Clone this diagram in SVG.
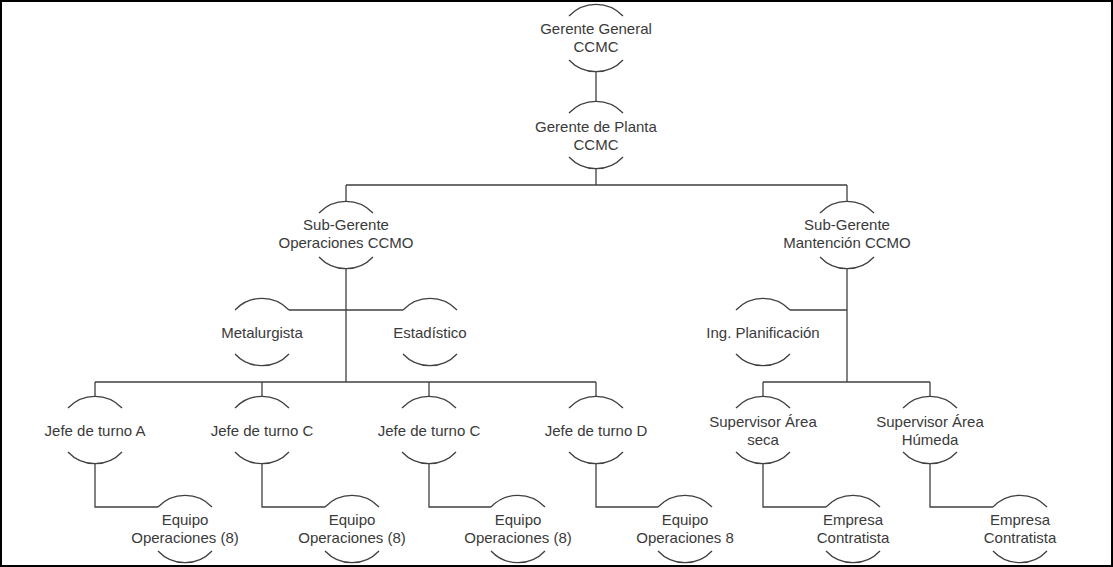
<svg xmlns="http://www.w3.org/2000/svg" xmlns:xlink="http://www.w3.org/1999/xlink" width="1113" height="567" viewBox="0 0 1113 567">
<style>
.ln{fill:none;stroke:#404040;stroke-width:1.3}
.t{font-family:"Liberation Sans",Arial,sans-serif;font-size:15px;fill:#3a3a3a;text-anchor:middle}
</style>
<defs>
<g id="arcs" class="ln">
<path d="M-27,-22 A37,37 0 0 1 27,-22"/>
<path d="M-27,22 A37,37 0 0 0 27,22"/>
</g>
</defs>
<rect x="1" y="1" width="1111" height="565" fill="#fff" stroke="#000" stroke-width="2"/>
<g id="connectors" class="ln">
<path d="M596,72 V101"/>
<path d="M596,169 V185 M346,185 H847 M346,185 V201 M847,185 V201"/>
<path d="M346,269 V382 M289,310 H403"/>
<path d="M95,382 H596 M95,382 V396 M262,382 V396 M429,382 V396 M596,382 V396"/>
<path d="M847,269 V382 M790,310 H847 M763,382 H930 M763,382 V396 M930,382 V396"/>
<path d="M95,464 V507 H158 M262,464 V507 H325 M429,464 V507 H491 M596,464 V507 H658"/>
<path d="M763,464 V507 H826 M930,464 V507 H993"/>
</g>
<g id="gerente-general"><use xlink:href="#arcs" x="596" y="38"/><text class="t" x="596" y="34">Gerente General</text><text class="t" x="596" y="52">CCMC</text></g>
<g id="gerente-planta"><use xlink:href="#arcs" x="596" y="135"/><text class="t" x="596" y="132">Gerente de Planta</text><text class="t" x="596" y="150">CCMC</text></g>
<g id="subgerente-operaciones"><use xlink:href="#arcs" x="346" y="235"/><text class="t" x="346" y="230">Sub-Gerente</text><text class="t" x="346" y="248">Operaciones CCMO</text></g>
<g id="subgerente-mantencion"><use xlink:href="#arcs" x="847" y="235"/><text class="t" x="847" y="230">Sub-Gerente</text><text class="t" x="847" y="248">Mantención CCMO</text></g>
<g id="metalurgista"><use xlink:href="#arcs" x="262" y="332"/><text class="t" x="262" y="338">Metalurgista</text></g>
<g id="estadistico"><use xlink:href="#arcs" x="430" y="332"/><text class="t" x="430" y="338">Estadístico</text></g>
<g id="ing-planificacion"><use xlink:href="#arcs" x="763" y="332"/><text class="t" x="763" y="338">Ing. Planificación</text></g>
<g id="jefe-a"><use xlink:href="#arcs" x="95" y="430"/><text class="t" x="95" y="436">Jefe de turno A</text></g>
<g id="jefe-c1"><use xlink:href="#arcs" x="262" y="430"/><text class="t" x="262" y="436">Jefe de turno C</text></g>
<g id="jefe-c2"><use xlink:href="#arcs" x="429" y="430"/><text class="t" x="429" y="436">Jefe de turno C</text></g>
<g id="jefe-d"><use xlink:href="#arcs" x="596" y="430"/><text class="t" x="596" y="436">Jefe de turno D</text></g>
<g id="supervisor-seca"><use xlink:href="#arcs" x="763" y="430"/><text class="t" x="763" y="427">Supervisor Área</text><text class="t" x="763" y="445">seca</text></g>
<g id="supervisor-humeda"><use xlink:href="#arcs" x="930" y="430"/><text class="t" x="930" y="427">Supervisor Área</text><text class="t" x="930" y="445">Húmeda</text></g>
<g id="equipo-a"><use xlink:href="#arcs" x="185" y="529"/><text class="t" x="185" y="525">Equipo</text><text class="t" x="185" y="543">Operaciones (8)</text></g>
<g id="equipo-c1"><use xlink:href="#arcs" x="352" y="529"/><text class="t" x="352" y="525">Equipo</text><text class="t" x="352" y="543">Operaciones (8)</text></g>
<g id="equipo-c2"><use xlink:href="#arcs" x="518" y="529"/><text class="t" x="518" y="525">Equipo</text><text class="t" x="518" y="543">Operaciones (8)</text></g>
<g id="equipo-d"><use xlink:href="#arcs" x="685" y="529"/><text class="t" x="685" y="525">Equipo</text><text class="t" x="685" y="543">Operaciones 8</text></g>
<g id="empresa-seca"><use xlink:href="#arcs" x="853" y="529"/><text class="t" x="853" y="525">Empresa</text><text class="t" x="853" y="543">Contratista</text></g>
<g id="empresa-humeda"><use xlink:href="#arcs" x="1020" y="529"/><text class="t" x="1020" y="525">Empresa</text><text class="t" x="1020" y="543">Contratista</text></g>
</svg>
